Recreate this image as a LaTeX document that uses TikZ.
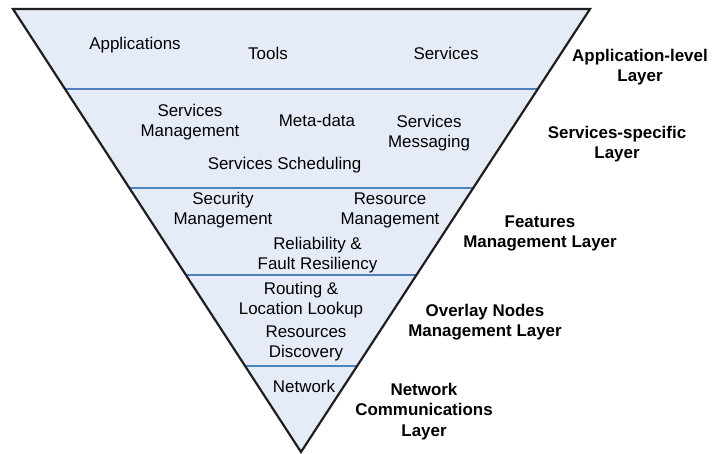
\documentclass[tikz,border=0pt]{standalone}
\usepackage{fontspec}
\setmainfont{Liberation Sans}
\usetikzlibrary{calc}
\definecolor{fillblue}{HTML}{E6ECF7}
\definecolor{lineblue}{HTML}{4F81BD}
\begin{document}
\begin{tikzpicture}[x=1bp,y=-1bp,
  txt/.style={inner sep=0pt, align=center, anchor=base, font=\fontsize{17}{20.5}\selectfont},
  lbl/.style={txt, font=\fontsize{17}{20.5}\selectfont\bfseries},
  sep/.style={draw=lineblue, line width=2.5bp},
  outline/.style={draw=black!88, line width=2.2bp, line join=miter}]
\useasboundingbox (0,0) rectangle (722,454);
\coordinate (A) at (13,9);
\coordinate (B) at (590,9);
\coordinate (C) at (301,452);
\fill[fillblue] (A) -- (B) -- (C) -- cycle;
% separators
\foreach \t/\n in {0.1806/1,0.4041/2,0.6005/3,0.8059/4}{
  \coordinate (L\n) at ($(A)!\t!(C)$);
  \coordinate (R\n) at ($(B)!\t!(C)$);
  \draw[sep] (L\n) -- (R\n);
}
\draw[outline] (A) -- (B) -- (C) -- cycle;
% layer 1
\node[txt] (apps) at (135,50) {Applications};
\node[txt] (tools) at (268,60) {Tools};
\node[txt] (svc) at (446,60) {Services};
\node[lbl] (l1) at (640,82) {Application-level\\Layer};
% layer 2
\node[txt] (smgmt) at (190,137) {Services\\Management};
\node[txt] (meta) at (317,127) {Meta-data};
\node[txt] (smsg) at (429,148) {Services\\Messaging};
\node[txt] (ssched) at (284.5,170) {Services Scheduling};
\node[lbl] (l2) at (617,159) {Services-specific\\Layer};
% layer 3
\node[txt] (secm) at (223,225) {Security\\Management};
\node[txt] (resm) at (390,225) {Resource\\Management};
\node[txt] (rel) at (317.5,270) {Reliability \&\\Fault Resiliency};
\node[lbl] (l3) at (540,248) {Features\\Management Layer};
% layer 4
\node[txt] (rout) at (301,315) {Routing \&\\Location Lookup};
\node[txt] (disc) at (306,358) {Resources\\Discovery};
\node[lbl] (l4) at (485,337) {Overlay Nodes\\Management Layer};
% layer 5
\node[txt] (net) at (304,392) {Network};
\node[lbl] (l5) at (424,436) {Network\\Communications\\Layer};
\end{tikzpicture}
\end{document}
